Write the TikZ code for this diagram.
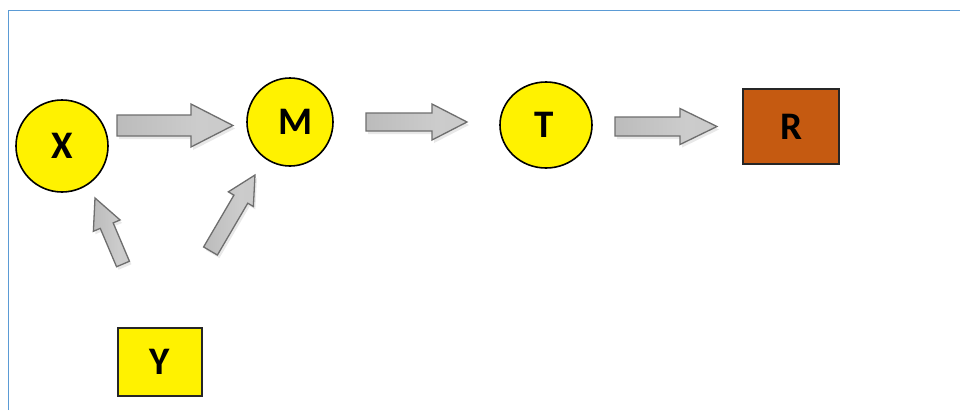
\documentclass[tikz,border=0pt]{standalone}
\usepackage{fontspec}
\setmainfont{Carlito}
\usetikzlibrary{calc,shapes.geometric,shadows}
\definecolor{frameblue}{HTML}{5B9BD5}
\definecolor{rust}{HTML}{C55A11}
\definecolor{arrline}{HTML}{6E6E6E}
\pgfdeclarehorizontalshading{arrshade}{100bp}{color(0bp)=(black!52); color(22bp)=(black!27); color(60bp)=(black!20); color(100bp)=(black!22)}
\tikzset{
  lbl/.style={font=\fontsize{39}{46}\selectfont\bfseries, text=black},
  yellowball/.style={ellipse, draw=black, line width=1.6pt, fill=yellow, inner sep=0pt, lbl},
  boxnode/.style={rectangle, draw=black!85, line width=1.3pt, inner sep=0pt, lbl},
  blockarrow/.style={draw=arrline, line width=1.3pt, line join=miter,
    shading=arrshade,
    drop shadow={shadow xshift=2pt, shadow yshift=-3pt, opacity=0.18}},
}
% #1 tail, #2 tip, #3 half shaft, #4 half head, #5 head length
\newcommand\blockarr[5]{%
  \path[blockarrow]
    ($(#1)!#3!90:(#2)$) --
    ($(#2)!#5!(#1)!#3!-90:(#1)$) --
    ($(#2)!#5!(#1)!#4!-90:(#1)$) --
    (#2) --
    ($(#2)!#5!(#1)!#4!90:(#1)$) --
    ($(#2)!#5!(#1)!#3!90:(#1)$) --
    ($(#1)!#3!-90:(#2)$) -- cycle;
}
\begin{document}
\begin{tikzpicture}[x=1pt,y=-1pt]
\useasboundingbox (0,0) rectangle (960,410);
\fill[white] (0,0) rectangle (960,410);
\draw[frameblue, line width=1pt] (8.5,410) -- (8.5,10.5) -- (960,10.5);

% nodes
\node[yellowball, minimum width=92pt, minimum height=92pt] (X) at (62,146) {\raisebox{-4pt}{X}};
\node[yellowball, minimum width=86pt, minimum height=88pt] (M) at (290,122) {\hspace{12pt}\raisebox{-5pt}{M}};
\node[yellowball, minimum width=92pt, minimum height=86pt] (T) at (546,125) {\hspace{-4pt}\raisebox{-5pt}{T}};
\node[boxnode, fill=rust, minimum width=96pt, minimum height=75pt] (R) at (791,126.5) {R};
\node[boxnode, fill=yellow, minimum width=84pt, minimum height=68pt] (Y) at (160,362) {Y};

% arrow end points
\coordinate (xmA) at (117,125.5); \coordinate (xmB) at (233,125.5);
\coordinate (mtA) at (366,122);   \coordinate (mtB) at (467,122);
\coordinate (trA) at (615,126.5); \coordinate (trB) at (717,126.5);
\coordinate (yxA) at (123,264);   \coordinate (yxB) at (95,198);
\coordinate (ymA) at (210.5,251); \coordinate (ymB) at (255,175);

\blockarr{xmA}{xmB}{10.5pt}{21.5pt}{42pt}
\blockarr{mtA}{mtB}{9pt}{18pt}{35pt}
\blockarr{trA}{trB}{9.5pt}{18pt}{37pt}
\blockarr{yxA}{yxB}{7pt}{14.5pt}{30pt}
\blockarr{ymA}{ymB}{8pt}{14.5pt}{28pt}
\end{tikzpicture}
\end{document}
